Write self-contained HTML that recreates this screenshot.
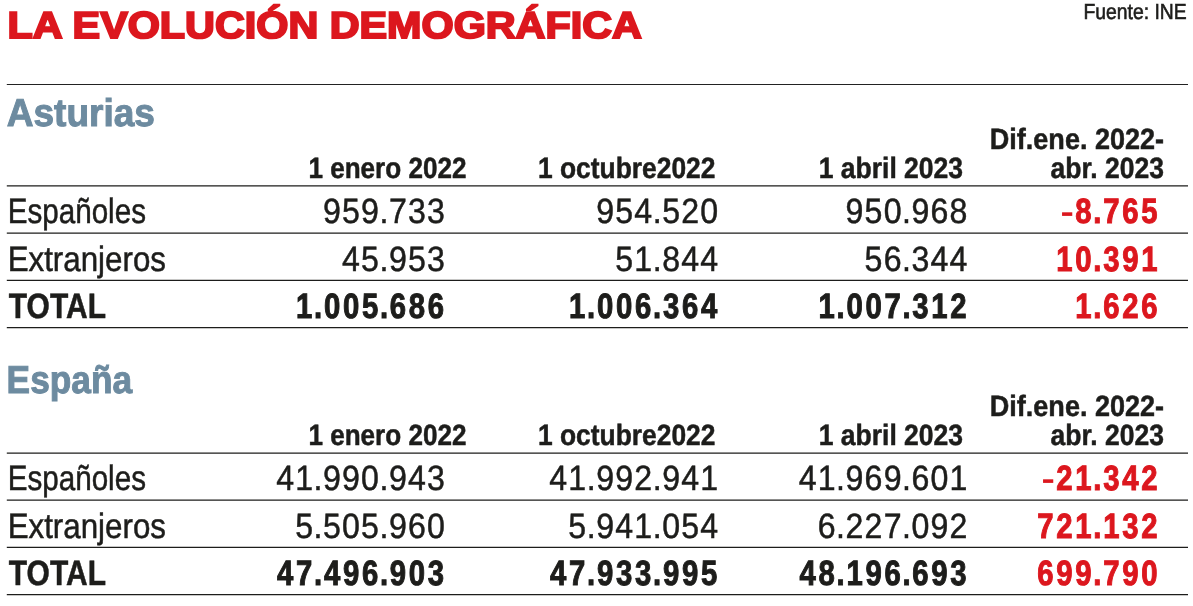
<!DOCTYPE html>
<html><head><meta charset="utf-8">
<style>
html,body{margin:0;padding:0;background:#fff;}
body{width:1193px;height:606px;overflow:hidden;}
svg{display:block;will-change:transform;text-rendering:geometricPrecision;}
text{font-family:"Liberation Sans",sans-serif;}
</style></head><body>
<svg width="1193" height="606" viewBox="0 0 1193 606">
<rect width="1193" height="606" fill="#fff"/>
<line x1="6.8" x2="1188" y1="84.50" y2="84.50" stroke="#222" stroke-width="1.0"/>
<line x1="6.8" x2="1188" y1="185.90" y2="185.90" stroke="#1d1d1b" stroke-width="1.25"/>
<line x1="6.8" x2="1188" y1="233.10" y2="233.10" stroke="#1d1d1b" stroke-width="1.25"/>
<line x1="6.8" x2="1188" y1="280.30" y2="280.30" stroke="#1d1d1b" stroke-width="1.25"/>
<line x1="6.8" x2="1188" y1="327.50" y2="327.50" stroke="#1d1d1b" stroke-width="1.25"/>
<line x1="6.8" x2="1188" y1="453.00" y2="453.00" stroke="#1d1d1b" stroke-width="1.25"/>
<line x1="6.8" x2="1188" y1="500.20" y2="500.20" stroke="#1d1d1b" stroke-width="1.25"/>
<line x1="6.8" x2="1188" y1="547.40" y2="547.40" stroke="#1d1d1b" stroke-width="1.25"/>
<line x1="6.8" x2="1188" y1="594.60" y2="594.60" stroke="#1d1d1b" stroke-width="1.25"/>
<text id="t0" x="7.62" y="37.90" font-size="37.6" font-weight="bold" fill="#dc171e" stroke="#dc171e" stroke-width="2.0" textLength="634.22" lengthAdjust="spacingAndGlyphs">LA EVOLUCIÓN DEMOGRÁFICA</text>
<text id="t1" x="1083.51" y="18.80" font-size="21.8" font-weight="normal" fill="#1d1d1b" stroke="#1d1d1b" stroke-width="0.6" textLength="103.10" lengthAdjust="spacingAndGlyphs">Fuente: INE</text>
<text id="t2" x="6.74" y="126.45" font-size="38.8" font-weight="bold" fill="#6d8ba0" stroke="#6d8ba0" stroke-width="1.0" textLength="148.24" lengthAdjust="spacingAndGlyphs">Asturias</text>
<text id="t3" x="308.38" y="178.20" font-size="29.4" font-weight="bold" fill="#1d1d1b" stroke="#1d1d1b" stroke-width="0.5" textLength="158.05" lengthAdjust="spacingAndGlyphs">1 enero 2022</text>
<text id="t4" x="537.97" y="178.20" font-size="29.4" font-weight="bold" fill="#1d1d1b" stroke="#1d1d1b" stroke-width="0.5" textLength="177.45" lengthAdjust="spacingAndGlyphs">1 octubre2022</text>
<text id="t5" x="818.66" y="178.20" font-size="29.4" font-weight="bold" fill="#1d1d1b" stroke="#1d1d1b" stroke-width="0.5" textLength="144.45" lengthAdjust="spacingAndGlyphs">1 abril 2023</text>
<text id="t6" x="989.76" y="149.20" font-size="29.4" font-weight="bold" fill="#1d1d1b" stroke="#1d1d1b" stroke-width="0.5" textLength="174.38" lengthAdjust="spacingAndGlyphs">Dif.ene. 2022-</text>
<text id="t7" x="1050.58" y="178.20" font-size="29.4" font-weight="bold" fill="#1d1d1b" stroke="#1d1d1b" stroke-width="0.5" textLength="113.46" lengthAdjust="spacingAndGlyphs">abr. 2023</text>
<text id="t8" x="7.71" y="223.20" font-size="35.1" font-weight="normal" fill="#1d1d1b" stroke="#1d1d1b" stroke-width="0.5" textLength="138.24" lengthAdjust="spacingAndGlyphs">Españoles</text>
<g id="t9">
<text transform="scale(0.915,1)" x="353.14 373.91 394.68 414.82 425.19 445.97 466.74" y="223.20" font-size="35.1" font-weight="normal" fill="#1d1d1b" stroke="#1d1d1b" stroke-width="0.5">959.733</text></g>
<g id="t10">
<text transform="scale(0.915,1)" x="651.61 672.38 693.15 713.29 723.66 744.44 765.21" y="223.20" font-size="35.1" font-weight="normal" fill="#1d1d1b" stroke="#1d1d1b" stroke-width="0.5">954.520</text></g>
<g id="t11">
<text transform="scale(0.915,1)" x="924.17 944.95 965.72 985.86 996.23 1017.01 1037.78" y="223.20" font-size="35.1" font-weight="normal" fill="#1d1d1b" stroke="#1d1d1b" stroke-width="0.5">950.968</text></g>
<g id="t12">
<rect x="1062.06" y="212.30" width="10.2" height="3.6" fill="#dc171e"/>
<text transform="scale(0.835,1)" x="1287.80 1309.40 1321.24 1344.00 1366.76" y="223.20" font-size="35.1" font-weight="bold" fill="#dc171e" stroke="#dc171e" stroke-width="1.0">8.765</text></g>
<text id="t13" x="7.64" y="270.65" font-size="35.1" font-weight="normal" fill="#1d1d1b" stroke="#1d1d1b" stroke-width="0.5" textLength="158.33" lengthAdjust="spacingAndGlyphs">Extranjeros</text>
<g id="t14">
<text transform="scale(0.915,1)" x="373.91 394.68 414.82 425.19 445.97 466.74" y="270.65" font-size="35.1" font-weight="normal" fill="#1d1d1b" stroke="#1d1d1b" stroke-width="0.5">45.953</text></g>
<g id="t15">
<text transform="scale(0.915,1)" x="672.38 693.15 713.29 723.66 744.44 765.21" y="270.65" font-size="35.1" font-weight="normal" fill="#1d1d1b" stroke="#1d1d1b" stroke-width="0.5">51.844</text></g>
<g id="t16">
<text transform="scale(0.915,1)" x="944.95 965.72 985.86 996.23 1017.01 1037.78" y="270.65" font-size="35.1" font-weight="normal" fill="#1d1d1b" stroke="#1d1d1b" stroke-width="0.5">56.344</text></g>
<g id="t17">
<text transform="scale(0.835,1)" x="1265.04 1287.80 1309.40 1321.24 1344.00 1366.76" y="270.65" font-size="35.1" font-weight="bold" fill="#dc171e" stroke="#dc171e" stroke-width="1.0">10.391</text></g>
<text id="t18" x="8.79" y="318.15" font-size="35.1" font-weight="bold" fill="#1d1d1b" stroke="#1d1d1b" stroke-width="0.5" textLength="97.17" lengthAdjust="spacingAndGlyphs">TOTAL</text>
<g id="t19">
<text transform="scale(0.835,1)" x="354.47 376.07 387.90 410.67 433.43 455.03 466.87 489.63 512.39" y="318.15" font-size="35.1" font-weight="bold" fill="#1d1d1b" stroke="#1d1d1b" stroke-width="1.0">1.005.686</text></g>
<g id="t20">
<text transform="scale(0.835,1)" x="681.54 703.13 714.97 737.73 760.50 782.09 793.93 816.70 839.46" y="318.15" font-size="35.1" font-weight="bold" fill="#1d1d1b" stroke="#1d1d1b" stroke-width="1.0">1.006.364</text></g>
<g id="t21">
<text transform="scale(0.835,1)" x="980.22 1001.81 1013.65 1036.42 1059.18 1080.78 1092.61 1115.38 1138.14" y="318.15" font-size="35.1" font-weight="bold" fill="#1d1d1b" stroke="#1d1d1b" stroke-width="1.0">1.007.312</text></g>
<g id="t22">
<text transform="scale(0.835,1)" x="1287.80 1309.40 1321.24 1344.00 1366.76" y="318.15" font-size="35.1" font-weight="bold" fill="#dc171e" stroke="#dc171e" stroke-width="1.0">1.626</text></g>
<text id="t23" x="6.62" y="393.45" font-size="38.8" font-weight="bold" fill="#6d8ba0" stroke="#6d8ba0" stroke-width="1.0" textLength="125.48" lengthAdjust="spacingAndGlyphs">España</text>
<text id="t24" x="308.38" y="445.20" font-size="29.4" font-weight="bold" fill="#1d1d1b" stroke="#1d1d1b" stroke-width="0.5" textLength="158.05" lengthAdjust="spacingAndGlyphs">1 enero 2022</text>
<text id="t25" x="537.97" y="445.20" font-size="29.4" font-weight="bold" fill="#1d1d1b" stroke="#1d1d1b" stroke-width="0.5" textLength="177.45" lengthAdjust="spacingAndGlyphs">1 octubre2022</text>
<text id="t26" x="818.66" y="445.20" font-size="29.4" font-weight="bold" fill="#1d1d1b" stroke="#1d1d1b" stroke-width="0.5" textLength="144.45" lengthAdjust="spacingAndGlyphs">1 abril 2023</text>
<text id="t27" x="989.76" y="416.20" font-size="29.4" font-weight="bold" fill="#1d1d1b" stroke="#1d1d1b" stroke-width="0.5" textLength="174.38" lengthAdjust="spacingAndGlyphs">Dif.ene. 2022-</text>
<text id="t28" x="1050.58" y="445.20" font-size="29.4" font-weight="bold" fill="#1d1d1b" stroke="#1d1d1b" stroke-width="0.5" textLength="113.46" lengthAdjust="spacingAndGlyphs">abr. 2023</text>
<text id="t29" x="7.71" y="490.20" font-size="35.1" font-weight="normal" fill="#1d1d1b" stroke="#1d1d1b" stroke-width="0.5" textLength="138.24" lengthAdjust="spacingAndGlyphs">Españoles</text>
<g id="t30">
<text transform="scale(0.915,1)" x="301.85 322.63 342.76 353.14 373.91 394.68 414.82 425.19 445.97 466.74" y="490.20" font-size="35.1" font-weight="normal" fill="#1d1d1b" stroke="#1d1d1b" stroke-width="0.5">41.990.943</text></g>
<g id="t31">
<text transform="scale(0.915,1)" x="600.32 621.10 641.23 651.61 672.38 693.15 713.29 723.66 744.44 765.21" y="490.20" font-size="35.1" font-weight="normal" fill="#1d1d1b" stroke="#1d1d1b" stroke-width="0.5">41.992.941</text></g>
<g id="t32">
<text transform="scale(0.915,1)" x="872.89 893.66 913.80 924.17 944.95 965.72 985.86 996.23 1017.01 1037.78" y="490.20" font-size="35.1" font-weight="normal" fill="#1d1d1b" stroke="#1d1d1b" stroke-width="0.5">41.969.601</text></g>
<g id="t33">
<rect x="1043.05" y="479.30" width="10.2" height="3.6" fill="#dc171e"/>
<text transform="scale(0.835,1)" x="1265.04 1287.80 1309.40 1321.24 1344.00 1366.76" y="490.20" font-size="35.1" font-weight="bold" fill="#dc171e" stroke="#dc171e" stroke-width="1.0">21.342</text></g>
<text id="t34" x="7.64" y="537.65" font-size="35.1" font-weight="normal" fill="#1d1d1b" stroke="#1d1d1b" stroke-width="0.5" textLength="158.33" lengthAdjust="spacingAndGlyphs">Extranjeros</text>
<g id="t35">
<text transform="scale(0.915,1)" x="322.63 342.76 353.14 373.91 394.68 414.82 425.19 445.97 466.74" y="537.65" font-size="35.1" font-weight="normal" fill="#1d1d1b" stroke="#1d1d1b" stroke-width="0.5">5.505.960</text></g>
<g id="t36">
<text transform="scale(0.915,1)" x="621.10 641.23 651.61 672.38 693.15 713.29 723.66 744.44 765.21" y="537.65" font-size="35.1" font-weight="normal" fill="#1d1d1b" stroke="#1d1d1b" stroke-width="0.5">5.941.054</text></g>
<g id="t37">
<text transform="scale(0.915,1)" x="893.66 913.80 924.17 944.95 965.72 985.86 996.23 1017.01 1037.78" y="537.65" font-size="35.1" font-weight="normal" fill="#1d1d1b" stroke="#1d1d1b" stroke-width="0.5">6.227.092</text></g>
<g id="t38">
<text transform="scale(0.835,1)" x="1242.28 1265.04 1287.80 1309.40 1321.24 1344.00 1366.76" y="537.65" font-size="35.1" font-weight="bold" fill="#dc171e" stroke="#dc171e" stroke-width="1.0">721.132</text></g>
<text id="t39" x="8.79" y="585.15" font-size="35.1" font-weight="bold" fill="#1d1d1b" stroke="#1d1d1b" stroke-width="0.5" textLength="97.17" lengthAdjust="spacingAndGlyphs">TOTAL</text>
<g id="t40">
<text transform="scale(0.835,1)" x="331.71 354.47 376.07 387.90 410.67 433.43 455.03 466.87 489.63 512.39" y="585.15" font-size="35.1" font-weight="bold" fill="#1d1d1b" stroke="#1d1d1b" stroke-width="1.0">47.496.903</text></g>
<g id="t41">
<text transform="scale(0.835,1)" x="658.77 681.54 703.13 714.97 737.73 760.50 782.09 793.93 816.70 839.46" y="585.15" font-size="35.1" font-weight="bold" fill="#1d1d1b" stroke="#1d1d1b" stroke-width="1.0">47.933.995</text></g>
<g id="t42">
<text transform="scale(0.835,1)" x="957.46 980.22 1001.81 1013.65 1036.42 1059.18 1080.78 1092.61 1115.38 1138.14" y="585.15" font-size="35.1" font-weight="bold" fill="#1d1d1b" stroke="#1d1d1b" stroke-width="1.0">48.196.693</text></g>
<g id="t43">
<text transform="scale(0.835,1)" x="1242.28 1265.04 1287.80 1309.40 1321.24 1344.00 1366.76" y="585.15" font-size="35.1" font-weight="bold" fill="#dc171e" stroke="#dc171e" stroke-width="1.0">699.790</text></g>
</svg>
</body></html>
